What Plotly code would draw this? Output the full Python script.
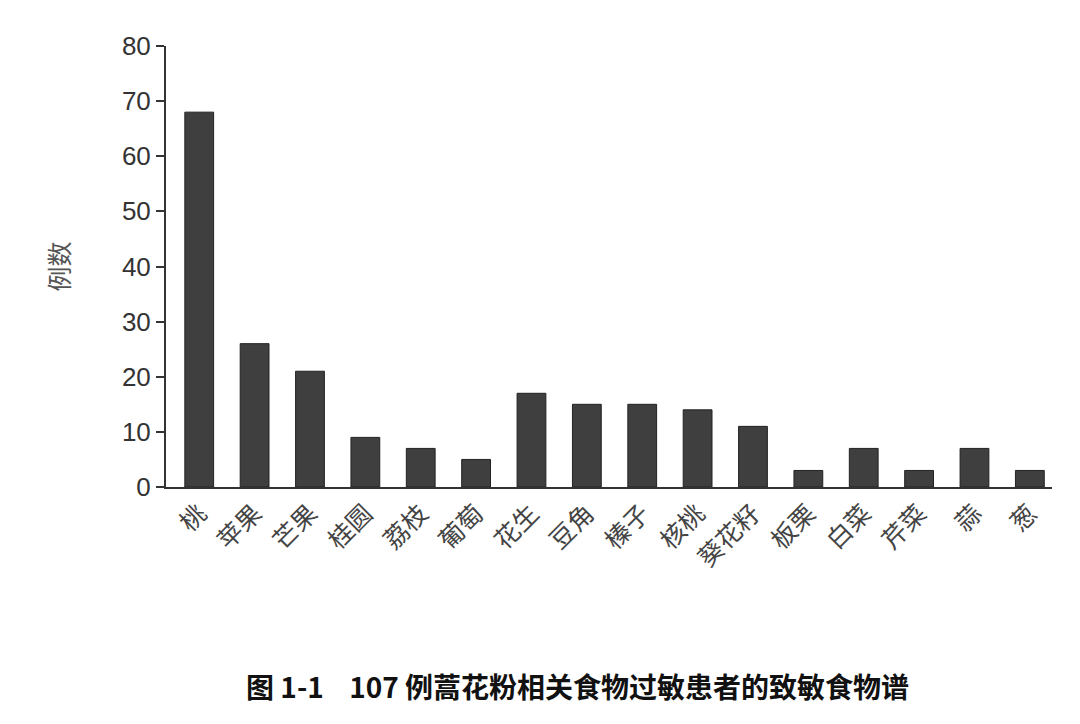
import plotly.graph_objects as go

categories = ["桃","苹果","芒果","桂圆","荔枝","葡萄","花生","豆角","榛子","核桃","葵花籽","板栗","白菜","芹菜","蒜","葱"]
values = [68, 26, 21, 9, 7, 5, 17, 15, 15, 14, 11, 3, 7, 3, 7, 3]
y_ticks = [0, 10, 20, 30, 40, 50, 60, 70, 80]

fig = go.Figure(go.Bar(x=categories, y=values, width=0.52,
                       marker=dict(color="#3f3f3f", line=dict(color="#222", width=1))))
fig.update_layout(
    width=1080, height=724, plot_bgcolor="white", paper_bgcolor="white",
    margin=dict(l=158, r=36, t=38, b=245), showlegend=False,
    font=dict(family="Noto Sans CJK SC, Liberation Sans", color="#333"),
)
fig.update_xaxes(range=[-0.6, 15.4], showline=True, linecolor="#333", linewidth=2,
                 ticks="", tickangle=-45, tickfont=dict(size=25, color="#444"))
fig.update_yaxes(range=[0, 80], tickvals=y_ticks, showline=True, linecolor="#333", linewidth=2,
                 ticks="outside", ticklen=8, tickwidth=2, tickcolor="#333", showgrid=False,
                 zeroline=False, tickfont=dict(size=26, family="Liberation Sans", color="#333"),
                 title=dict(text="例数", font=dict(size=25, color="#555"), standoff=45))
fig.add_annotation(text="<b>图 1-1    107 例蒿花粉相关食物过敏患者的致敏食物谱</b>",
                   xref="paper", yref="paper", x=0.465, y=-0.5, showarrow=False,
                   font=dict(size=28, color="#111", family="Noto Sans CJK SC"))
fig.write_html("out.html")
